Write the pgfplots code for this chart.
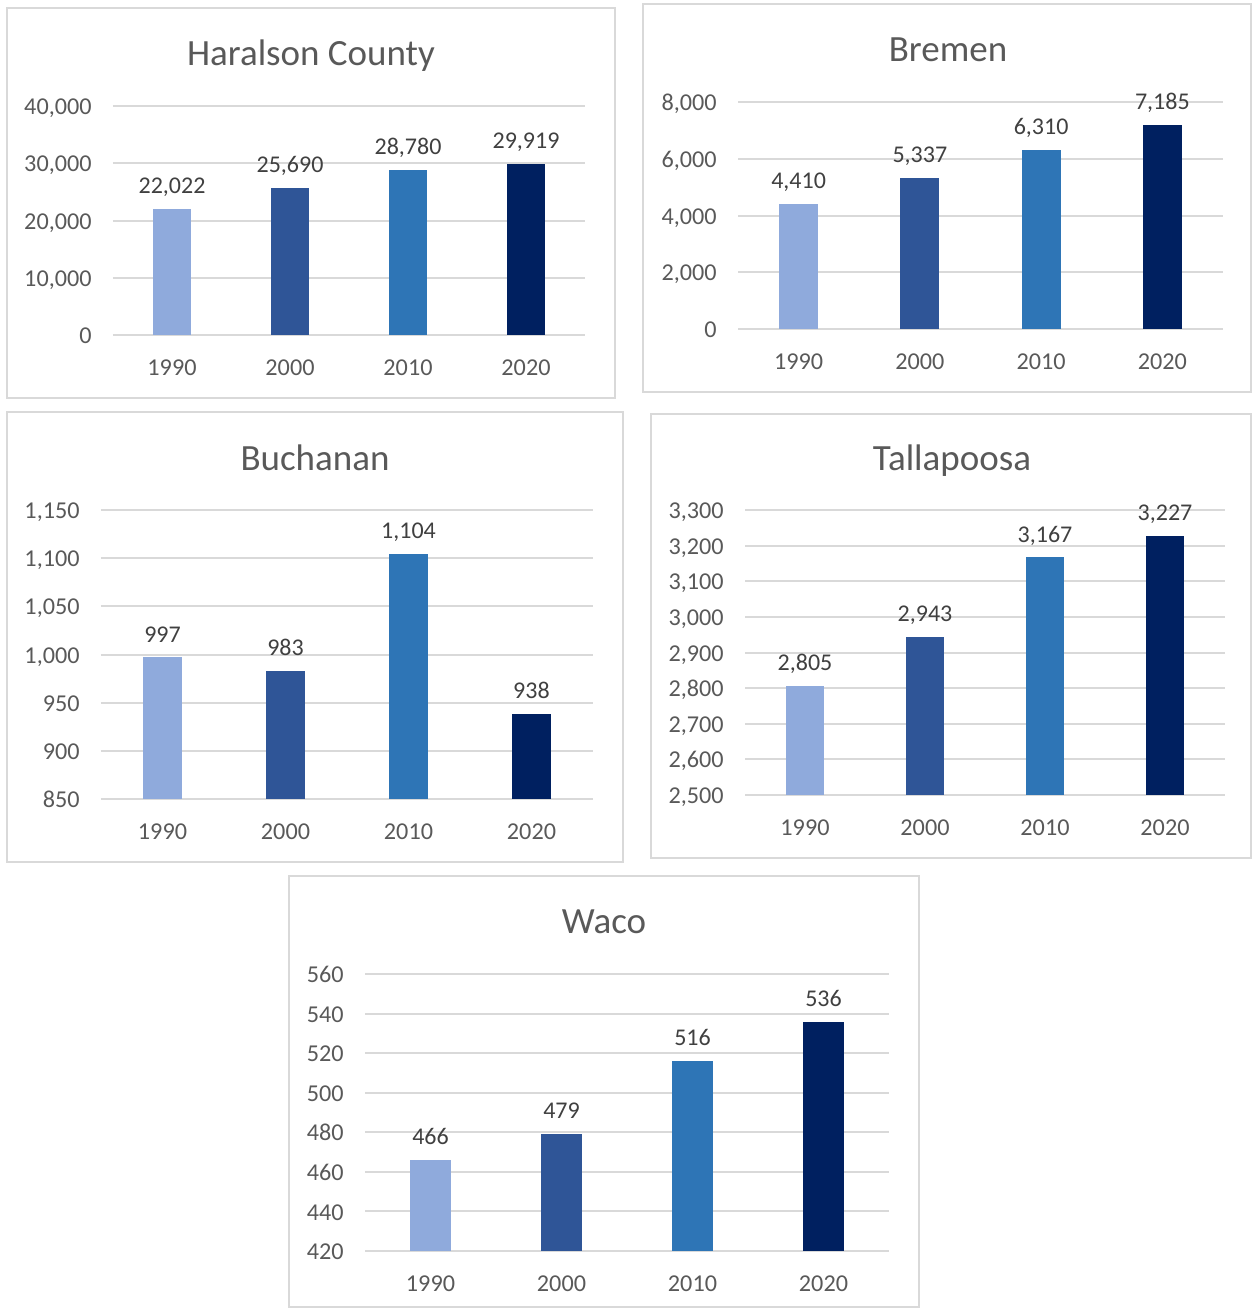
\documentclass[border=0pt]{standalone}
\usepackage{pgfplots}
\pgfplotsset{compat=1.18}
\usepackage{fontspec}
\setmainfont{Carlito}
\definecolor{cA}{HTML}{8FAADC}
\definecolor{cB}{HTML}{2F5597}
\definecolor{cC}{HTML}{2E75B6}
\definecolor{cD}{HTML}{002060}
\definecolor{gridc}{HTML}{D9D9D9}
\definecolor{txt}{HTML}{595959}
\definecolor{lbl}{HTML}{404040}
\pgfplotsset{
 panel/.style={
  scale only axis, anchor=south west, clip=true,
  xmin=-0.5, xmax=3.5, xtick={0,1,2,3}, xticklabels={1990,2000,2010,2020},
  ymajorgrids, xmajorgrids=false, grid style={gridc, line width=1pt},
  axis line style={draw=none}, tick style={draw=none}, major tick length=0pt,
  scaled y ticks=false,
  /pgf/number format/1000 sep={,}, /pgf/number format/assume math mode=true,
  tick label style={font=\fontsize{12.1}{15}\selectfont, text=txt},
  yticklabel style={anchor=base east, inner sep=0pt, xshift=-10.5pt, yshift=-4.3pt},
  xticklabel style={anchor=base, inner sep=0pt, yshift=-20.3pt},
  nodes near coords,
  bar width=0.32,
 },
 bar/.style={ybar, bar shift=0pt, draw=none, fill=#1,
  every node near coord/.append style={font=\fontsize{12}{15}\selectfont, text=lbl, anchor=base, inner sep=0pt, yshift=7.7pt}},
}
\newcommand{\ttl}[2]{\node[anchor=base, text=txt, font=\fontsize{18.5}{22}\selectfont] at #1 {#2};}
\begin{document}
\begin{tikzpicture}
\path[use as bounding box] (0,0) rectangle (626pt,-654pt);
\begin{scope}[gridc, line width=1pt]
\draw (3.5pt,-4pt) rectangle (307.5pt,-199pt);
\draw (321.5pt,-2pt) rectangle (625.5pt,-196pt);
\draw (3.5pt,-206pt) rectangle (311.5pt,-431pt);
\draw (325.5pt,-207pt) rectangle (625.5pt,-429pt);
\draw (144.5pt,-438pt) rectangle (459.5pt,-653.5pt);
\end{scope}
\ttl{(155.5pt,-32.5pt)}{Haralson County}
\ttl{(474pt,-30.5pt)}{Bremen}
\ttl{(157.5pt,-235pt)}{Buchanan}
\ttl{(476pt,-235pt)}{Tallapoosa}
\ttl{(302pt,-466.5pt)}{Waco}

\begin{axis}[panel, at={(56.5pt,-167.5pt)}, width=236pt, height=114.5pt,
  ymin=0, ymax=40000, ytick distance=10000]
\addplot[bar=cA] coordinates {(0,22022)};
\addplot[bar=cB] coordinates {(1,25690)};
\addplot[bar=cC] coordinates {(2,28780)};
\addplot[bar=cD] coordinates {(3,29919)};
\end{axis}

\begin{axis}[panel, at={(369pt,-164.5pt)}, width=242.5pt, height=113.5pt,
  ymin=0, ymax=8000, ytick distance=2000]
\addplot[bar=cA] coordinates {(0,4410)};
\addplot[bar=cB] coordinates {(1,5337)};
\addplot[bar=cC] coordinates {(2,6310)};
\addplot[bar=cD] coordinates {(3,7185)};
\end{axis}

\begin{axis}[panel, at={(50.5pt,-399.5pt)}, width=246pt, height=144.5pt,
  ymin=850, ymax=1150, ytick distance=50]
\addplot[bar=cA] coordinates {(0,997)};
\addplot[bar=cB] coordinates {(1,983)};
\addplot[bar=cC] coordinates {(2,1104)};
\addplot[bar=cD] coordinates {(3,938)};
\end{axis}

\begin{axis}[panel, at={(372.5pt,-397.5pt)}, width=240pt, height=142.5pt,
  ymin=2500, ymax=3300, ytick distance=100]
\addplot[bar=cA] coordinates {(0,2805)};
\addplot[bar=cB] coordinates {(1,2943)};
\addplot[bar=cC] coordinates {(2,3167)};
\addplot[bar=cD] coordinates {(3,3227)};
\end{axis}

\begin{axis}[panel, at={(182.5pt,-625.5pt)}, width=262pt, height=138.5pt,
  ymin=420, ymax=560, ytick distance=20]
\addplot[bar=cA] coordinates {(0,466)};
\addplot[bar=cB] coordinates {(1,479)};
\addplot[bar=cC] coordinates {(2,516)};
\addplot[bar=cD] coordinates {(3,536)};
\end{axis}
\end{tikzpicture}
\end{document}
